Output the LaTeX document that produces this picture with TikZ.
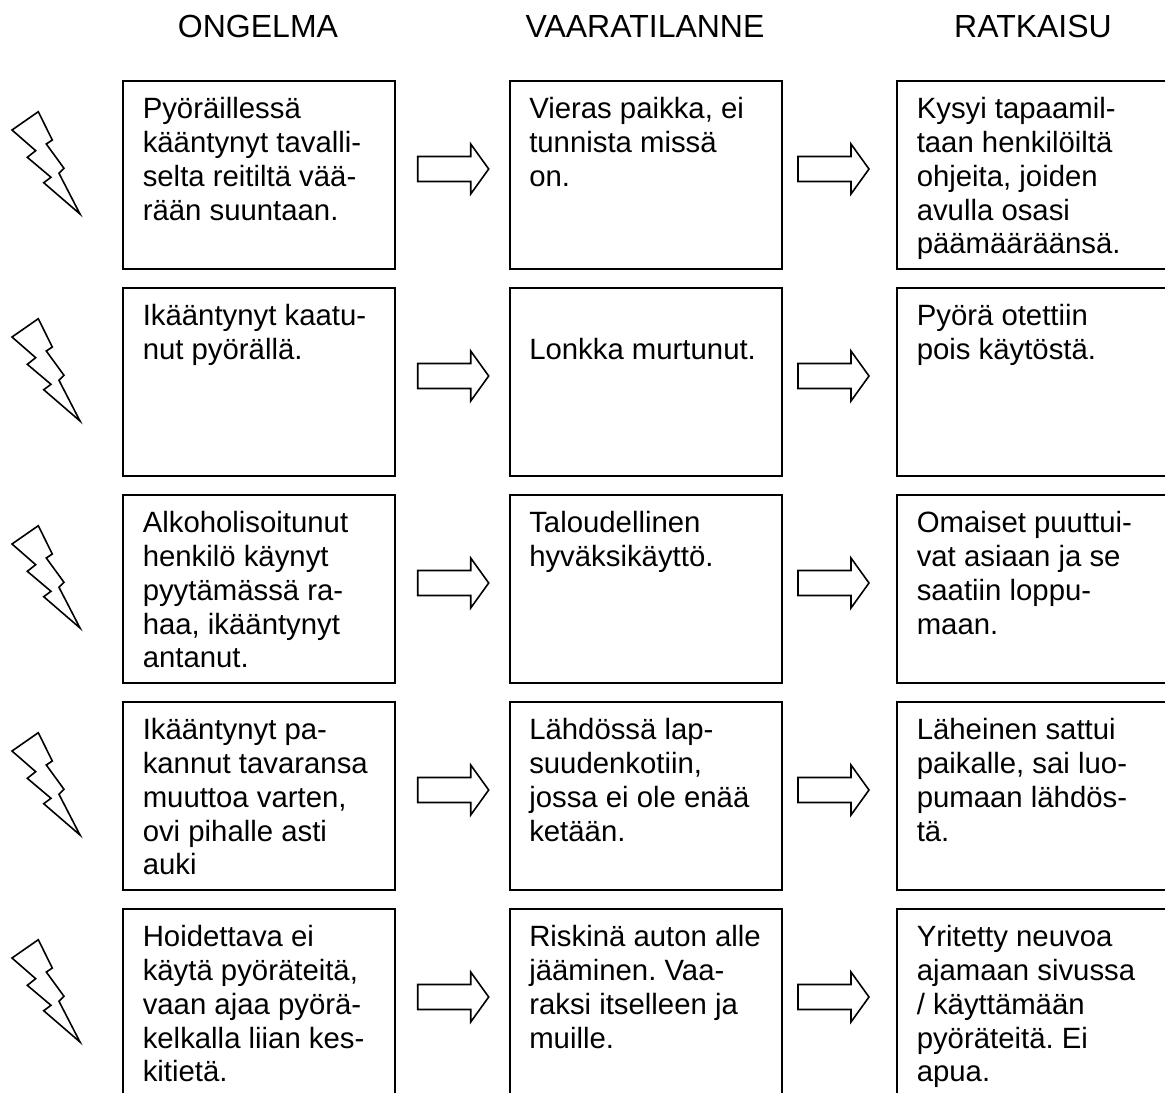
\documentclass[tikz,border=0pt]{standalone}
\usepackage{fontspec}
\setmainfont{Liberation Sans}
\frenchspacing
\tikzset{
  x=0.75pt,y=-0.75pt,
  cellbox/.style={draw=black,line width=1.5pt,anchor=north west,inner sep=0pt,minimum width=#1,minimum height=188*0.75pt},
  celltext/.style={anchor=north west,inner sep=0pt,align=left,font=\fontsize{22}{25.3}\selectfont},
  head/.style={anchor=base,inner sep=0pt,font=\fontsize{24}{27.6}\selectfont},
  shapeline/.style={draw=black,line width=1.2pt,line join=miter,fill=white},
  pics/bolt/.style={code={\path[shapeline] (38.3,-60) -- (12,-41.7) -- (35.7,-21) -- (27.3,-14.4) -- (51,5.6) -- (43.7,11) -- (80,42.3) -- (59,1.6) -- (64,-3.4) -- (46.3,-27.7) -- (52.3,-31.7) -- cycle;}},
  pics/blockarrow/.style={code={\path[shapeline] (0,-12.5) -- (53,-12.5) -- (53,-25) -- (71,0) -- (53,25) -- (53,12.5) -- (0,12.5) -- cycle;}}
}
\newcommand{\cell}[4]{%
  \node[cellbox=#2*0.75pt] (b#1) at #3 {};
  \node[celltext] (t#1) at ([shift={(20.5,15)}]b#1.north west) {\strut#4};}
\begin{document}
\begin{tikzpicture}
\useasboundingbox (0,0) rectangle (1165,1093);
\clip (0,0) rectangle (1165,1093);
\node[head] (h1) at (258,37) {ONGELMA};
\node[head] (h2) at (645,37) {VAARATILANNE};
\node[head] (h3) at (1033,37) {RATKAISU};

\cell{11}{272}{(122,80)}{Pyöräillessä\\kääntynyt tavalli-\\selta reitiltä vää-\\rään suuntaan.}
\cell{12}{272}{(508.5,80)}{Vieras paikka, ei\\tunnista missä\\on.}
\cell{13}{300}{(896,80)}{Kysyi tapaamil-\\taan henkilöiltä\\ohjeita, joiden\\avulla osasi\\päämääräänsä.}

\cell{21}{272}{(122,287)}{Ikääntynyt kaatu-\\nut pyörällä.}
\cell{22}{272}{(508.5,287)}{\\Lonkka murtunut.}
\cell{23}{300}{(896,287)}{Pyörä otettiin\\pois käytöstä.}

\cell{31}{272}{(122,494)}{Alkoholisoitunut\\henkilö käynyt\\pyytämässä ra-\\haa, ikääntynyt\\antanut.}
\cell{32}{272}{(508.5,494)}{Taloudellinen\\hyväksikäyttö.}
\cell{33}{300}{(896,494)}{Omaiset puuttui-\\vat asiaan ja se\\saatiin loppu-\\maan.}

\cell{41}{272}{(122,701)}{Ikääntynyt pa-\\kannut tavaransa\\muuttoa varten,\\ovi pihalle asti\\auki}
\cell{42}{272}{(508.5,701)}{Lähdössä lap-\\suudenkotiin,\\jossa ei ole enää\\ketään.}
\cell{43}{300}{(896,701)}{Läheinen sattui\\paikalle, sai luo-\\pumaan lähdös-\\tä.}

\cell{51}{272}{(122,908)}{Hoidettava ei\\käytä pyöräteitä,\\vaan ajaa pyörä-\\kelkalla liian kes-\\kitietä.}
\cell{52}{272}{(508.5,908)}{Riskinä auton alle\\jääminen. Vaa-\\raksi itselleen ja\\muille.}
\cell{53}{300}{(896,908)}{Yritetty neuvoa\\ajamaan sivussa\\/ käyttämään\\pyöräteitä. Ei\\apua.}

\foreach \i/\y in {0/171.7,1/378.7,2/585.7,3/792.7,4/999.7} \pic at (0,\y) {bolt};
\foreach \y in {169,376,583,790,997} \pic at (417.7,\y) {blockarrow};
\foreach \y in {169,376,583,790,997} \pic at (798,\y) {blockarrow};
\end{tikzpicture}
\end{document}
